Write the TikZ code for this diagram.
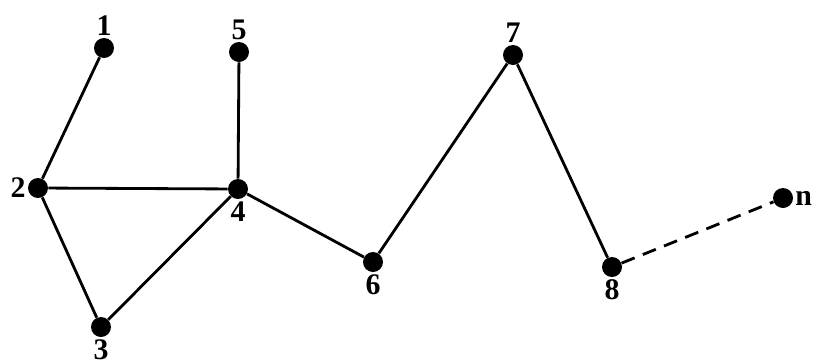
\documentclass[tikz,border=0pt]{standalone}
\usepackage{fontspec}
\setmainfont{Liberation Serif}
\usepackage{tikz}
\usetikzlibrary{positioning}

\begin{document}
\begin{tikzpicture}[vertex/.style={circle,fill=black,inner sep=0pt,minimum size=0.40cm},lbl/.style={font=\fontsize{17}{19}\selectfont\bfseries,inner sep=1pt},edge/.style={line width=1.6pt}]
\useasboundingbox (0,0) rectangle (16.36,7.26);
\node[vertex,label={[lbl]above:1}] (v1) at (2.08,6.30) {};
\node[vertex,label={[lbl]above:5}] (v5) at (4.78,6.22) {};
\node[vertex,label={[lbl]above:7}] (v7) at (10.26,6.16) {};
\node[vertex,label={[lbl]left:2}] (v2) at (0.76,3.50) {};
\node[vertex,label={[lbl]below:4}] (v4) at (4.76,3.48) {};
\node[vertex,label={[lbl]below:6}] (v6) at (7.46,2.02) {};
\node[vertex,label={[lbl]below:8}] (v8) at (12.24,1.92) {};
\node[vertex,label={[lbl]right:n}] (vn) at (15.66,3.30) {};
\node[vertex,label={[lbl]below:3}] (v3) at (2.02,0.72) {};
\draw[edge] (v1)--(v2);
\draw[edge] (v2)--(v4);
\draw[edge] (v2)--(v3);
\draw[edge] (v3)--(v4);
\draw[edge] (v4)--(v5);
\draw[edge] (v4)--(v6);
\draw[edge] (v6)--(v7);
\draw[edge] (v7)--(v8);
\draw[edge,dashed,dash pattern=on 8pt off 5pt] (v8)--(vn);
\end{tikzpicture}
\end{document}
